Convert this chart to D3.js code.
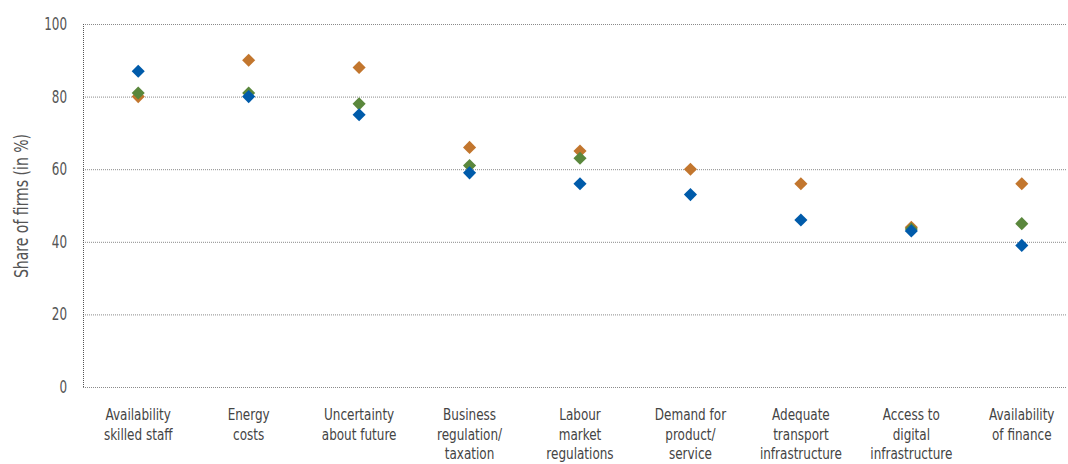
<!DOCTYPE html>
<html><head><meta charset="utf-8">
<script src="https://cdn.jsdelivr.net/npm/d3@7"></script>
<style>
body{margin:0;background:#fff;}
text{font-family:"DejaVu Sans Condensed","DejaVu Sans",sans-serif;}
</style></head>
<body><svg id="chart" width="1068" height="464"></svg>
<script>
const categories = [
  ["Availability","skilled staff"],
  ["Energy","costs"],
  ["Uncertainty","about future"],
  ["Business","regulation/","taxation"],
  ["Labour","market","regulations"],
  ["Demand for","product/","service"],
  ["Adequate","transport","infrastructure"],
  ["Access to","digital","infrastructure"],
  ["Availability","of finance"]
];
const seriesOrange = [80, 90, 88, 66, 65, 60, 56, 44, 56];
const seriesGreen  = [81, 81, 78, 61, 63, null, null, 43.5, 45];
const seriesBlue   = [87, 80, 75, 59, 56, 53, 46, 43, 39];
const yTicks = [0, 20, 40, 60, 80, 100];

(function(){
const svg = d3.select("#chart");
const pLeft = 83, pRight = 1066, pTop = 24, pBottom = 387;
const x = d3.scaleBand().domain(d3.range(categories.length)).range([pLeft, 1077]);
const y = d3.scaleLinear().domain([0, 100]).range([pBottom, pTop]);

svg.append("g").selectAll("line").data(yTicks).join("line")
  .attr("x1", pLeft).attr("x2", pRight)
  .attr("y1", d => y(d)+0.5).attr("y2", d => y(d)+0.5)
  .attr("stroke", "#8a8a8a").attr("stroke-width", 1).attr("stroke-dasharray", "1,1");
svg.append("line").attr("x1", pLeft+0.5).attr("x2", pLeft+0.5).attr("y1", y(100)).attr("y2", y(0))
  .attr("stroke", "#555").attr("stroke-width", 1).attr("stroke-dasharray", "1,1");

const yl = svg.append("g");
yTicks.forEach(t => {
  yl.append("text").attr("transform", `translate(67,${y(t)+6}) scale(0.76,1)`)
    .attr("text-anchor", "end").attr("font-size", 17.5).attr("fill", "#555").text(t);
});

svg.append("text").attr("transform", `translate(28,206) rotate(-90) scale(0.8,1)`)
  .attr("text-anchor", "middle").attr("font-size", 19.5).attr("fill", "#555")
  .text("Share of firms (in %)");

const lineH = 19.5;
categories.forEach((lines, i) => {
  const cx = x(i) + x.bandwidth()/2;
  const g = svg.append("g").attr("transform", `translate(${cx},0)`);
  lines.forEach((l, j) => g.append("text")
    .attr("text-anchor", "middle").attr("font-size", 16.3).attr("fill", "#444")
    .attr("transform", `translate(0,${420 + j*lineH}) scale(0.82,1)`).text(l));
});

const diamond = d3.symbol().type(d3.symbolSquare).size(86);
const series = [
  {vals: seriesOrange, color: "#C2762E"},
  {vals: seriesGreen, color: "#5A873C"},
  {vals: seriesBlue, color: "#005BAA"}
];
series.forEach(s => {
  svg.append("g").selectAll("path")
    .data(s.vals.map((v, i) => ({v, i})).filter(d => d.v != null))
    .join("path")
    .attr("d", diamond)
    .attr("transform", d => `translate(${x(d.i) + x.bandwidth()/2},${y(d.v)}) rotate(45)`)
    .attr("fill", s.color);
});
})();
</script></body></html>
